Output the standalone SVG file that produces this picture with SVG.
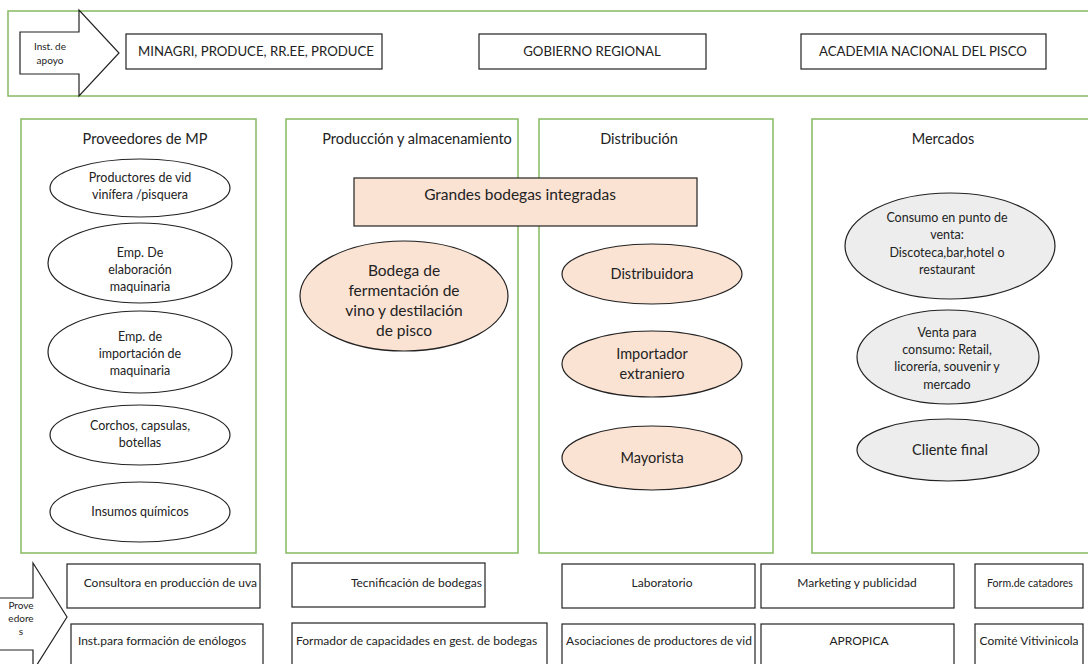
<svg xmlns="http://www.w3.org/2000/svg" width="1088" height="664" viewBox="0 0 1088 664">
<style>
text{font-family:Lato,"Open Sans","Liberation Sans",sans-serif;fill:#222;text-anchor:middle}
.grp{fill:none;stroke:#8dbf6a;stroke-width:1.6}
.box{fill:#fff;stroke:#222;stroke-width:1.2}
.el{fill:#fff;stroke:#222;stroke-width:1.2}
.pe{fill:#fbe3d4;stroke:#222;stroke-width:1.2}
.gr{fill:#ededed;stroke:#222;stroke-width:1.2}
.st{text-anchor:start}
.en{text-anchor:end}
.t15{font-size:15.5px}
.t14{font-size:14.5px}
.t13{font-size:13.2px}
.t12{font-size:12.5px}
.t11{font-size:12px}
.t10{font-size:10px}
.t105{font-size:10.6px}
</style>
<rect width="1088" height="664" fill="#fff"/>
<g id="groups">
<rect class="grp" x="8" y="11" width="1090" height="85"/>
<rect class="grp" x="21" y="119" width="235" height="434"/>
<rect class="grp" x="286" y="119" width="232" height="434"/>
<rect class="grp" x="539" y="119" width="234" height="434"/>
<rect class="grp" x="812" y="119" width="284" height="434"/>
</g>
<g id="connectors">
<path id="arrow-apoyo" class="box" d="M20,32 H79 V10 L119,53 L79,96 V74 H20 Z"/>
<text class="t10" x="50" y="50">Inst. de</text>
<text class="t10" x="50" y="64">apoyo</text>
<path id="arrow-prov" class="box" d="M-2,598 H33 V563 L67,617 L33,671 V650 H-2 Z"/>
<text class="t10" x="21" y="609">Prove</text>
<text class="t10" x="21" y="622">edore</text>
<text class="t10" x="21" y="635">s</text>
</g>
<g id="n-minagri"><rect class="box" x="126" y="34" width="256" height="35"/><text class="t13" x="256" y="56">MINAGRI, PRODUCE, RR.EE, PRODUCE</text></g>
<g id="n-gobierno"><rect class="box" x="479" y="34" width="227" height="35"/><text class="t13" x="592" y="56">GOBIERNO REGIONAL</text></g>
<g id="n-academia"><rect class="box" x="801" y="34" width="245" height="35"/><text class="t13" x="923" y="56">ACADEMIA NACIONAL DEL PISCO</text></g>

<g id="h-prov"><text class="t14" x="145" y="144">Proveedores de MP</text></g>
<g id="h-prod"><text class="t14" x="417" y="144">Producción y almacenamiento</text></g>
<g id="h-dist"><text class="t14" x="639" y="144">Distribución</text></g>
<g id="h-merc"><text class="t14" x="943" y="144">Mercados</text></g>

<g id="n-vid"><ellipse class="el" cx="140" cy="188" rx="90" ry="29"/><text class="t12" x="140" y="182">Productores de vid</text><text class="t12" x="140" y="199">vinífera /pisquera</text></g>
<g id="n-elab"><ellipse class="el" cx="140" cy="263" rx="92" ry="40"/><text class="t12" x="140" y="257">Emp. De</text><text class="t12" x="140" y="274">elaboración</text><text class="t12" x="140" y="291">maquinaria</text></g>
<g id="n-import"><ellipse class="el" cx="140" cy="352" rx="92" ry="41"/><text class="t12" x="140" y="341">Emp. de</text><text class="t12" x="140" y="358">importación de</text><text class="t12" x="140" y="375">maquinaria</text></g>
<g id="n-corchos"><ellipse class="el" cx="140" cy="435" rx="90" ry="30"/><text class="t12" x="140" y="430">Corchos, capsulas,</text><text class="t12" x="140" y="447">botellas</text></g>
<g id="n-insumos"><ellipse class="el" cx="140" cy="512" rx="90" ry="30"/><text class="t12" x="140" y="516">Insumos químicos</text></g>

<g id="n-grandes"><rect class="pe" x="354" y="178" width="343" height="48"/><text class="t15" x="520" y="200">Grandes bodegas integradas</text></g>
<g id="n-bodega"><ellipse class="pe" cx="404" cy="296" rx="104" ry="55"/><text class="t15" x="404" y="276">Bodega de</text><text class="t15" x="404" y="296">fermentación de</text><text class="t15" x="404" y="316">vino y destilación</text><text class="t15" x="404" y="336">de pisco</text></g>

<g id="n-distribuidora"><ellipse class="pe" cx="652" cy="274" rx="90" ry="30"/><text class="t14" x="652" y="279">Distribuidora</text></g>
<g id="n-importador"><ellipse class="pe" cx="652" cy="364" rx="90" ry="33"/><text class="t14" x="652" y="359">Importador</text><text class="t14" x="652" y="379">extraniero</text></g>
<g id="n-mayorista"><ellipse class="pe" cx="652" cy="458" rx="90" ry="32"/><text class="t14" x="652" y="463">Mayorista</text></g>

<g id="n-consumo"><ellipse class="gr" cx="950" cy="246" rx="105" ry="53"/><text class="t12" x="947" y="222">Consumo en punto de</text><text class="t12" x="947" y="239">venta:</text><text class="t12" x="947" y="257">Discoteca,bar,hotel o</text><text class="t12" x="947" y="274">restaurant</text></g>
<g id="n-venta"><ellipse class="gr" cx="948" cy="357" rx="91" ry="47"/><text class="t12" x="947" y="337">Venta para</text><text class="t12" x="947" y="354">consumo: Retail,</text><text class="t12" x="947" y="371">licorería, souvenir y</text><text class="t12" x="947" y="389">mercado</text></g>
<g id="n-cliente"><ellipse class="gr" cx="948" cy="450" rx="91" ry="31"/><text class="t14" x="950" y="455">Cliente final</text></g>

<g id="n-consultora"><rect class="box" x="67" y="564" width="193" height="44"/><text class="t11 en" x="257" y="587">Consultora en producción de uva</text></g>
<g id="n-tecnif"><rect class="box" x="292" y="563" width="193" height="44"/><text class="t11 en" x="482" y="587">Tecnificación de bodegas</text></g>
<g id="n-lab"><rect class="box" x="562" y="564" width="193" height="44"/><text class="t11" x="662" y="587">Laboratorio</text></g>
<g id="n-marketing"><rect class="box" x="761" y="564" width="193" height="44"/><text class="t11" x="857" y="587">Marketing y publicidad</text></g>
<g id="n-catadores"><rect class="box" x="975" y="564" width="108" height="44"/><text class="t105" x="1030" y="587">Form.de catadores</text></g>
<g id="n-inst"><rect class="box" x="71" y="624" width="192" height="46"/><text class="t11" x="162" y="645">Inst.para formación de enólogos</text></g>
<g id="n-formador"><rect class="box" x="292" y="623" width="255" height="47"/><text class="t11 st" x="296" y="645">Formador de capacidades en gest. de bodegas</text></g>
<g id="n-asoc"><rect class="box" x="562" y="624" width="193" height="46"/><text class="t11" x="659" y="645">Asociaciones de productores de vid</text></g>
<g id="n-apropica"><rect class="box" x="761" y="624" width="193" height="46"/><text class="t11" x="859" y="645">APROPICA</text></g>
<g id="n-comite"><rect class="box" x="975" y="624" width="108" height="46"/><text class="t11" x="1029" y="645">Comité Vitivinicola</text></g>
</svg>
